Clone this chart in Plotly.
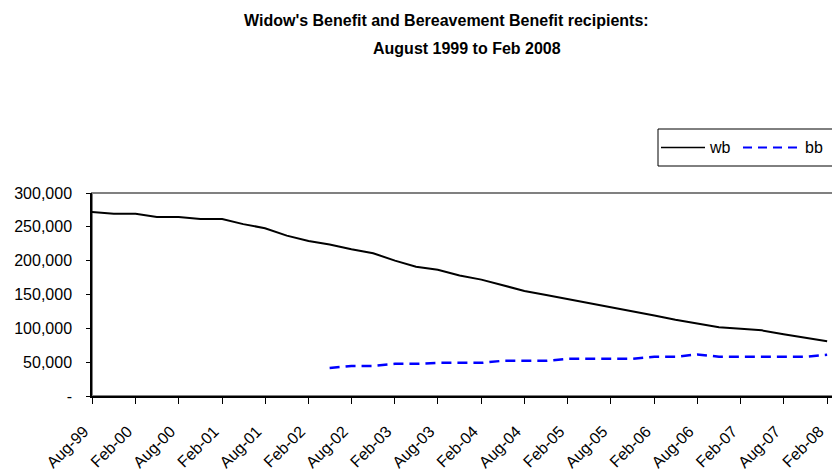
import plotly.graph_objects as go
import pandas as pd

# Quarterly periods
wb_dates = pd.date_range("1999-08-01", "2008-02-01", freq="3MS")
wb_values = [272000, 269500, 269500, 264500, 264500, 261500, 261500, 254000, 248000,
             237000, 229000, 224000, 217000, 211000, 200000, 191000, 186500, 178000,
             172000, 163700, 155300, 149400, 143500, 137200, 130900, 125000, 119100,
             112700, 106800, 101500, 99400, 97000, 91200, 85700, 80900]

bb_dates = pd.date_range("2002-05-01", "2008-02-01", freq="3MS")
bb_values = [41500, 44500, 44500, 47500, 47500, 49000, 49000, 49000, 52000, 52000,
             52000, 55000, 55000, 55000, 55000, 58000, 58000, 61500, 58000, 58000,
             58000, 58000, 58000, 61000]

tick_dates = pd.date_range("1999-08-01", "2008-02-01", freq="6MS")
tick_labels = [d.strftime("%b-%y") for d in tick_dates]

y_ticks = [0, 50000, 100000, 150000, 200000, 250000, 300000]
y_labels = ["-", "50,000", "100,000", "150,000", "200,000", "250,000", "300,000"]

title_lines = ["Widow's Benefit and Bereavement Benefit recipients:", "August 1999 to Feb 2008"]
series_names = ["wb", "bb"]

FONT = "Liberation Sans, Arial, sans-serif"

# page body has an 8px default margin -> figure is 832x467, offset by 8px
OFF = 8
ML, MR, MT, MB = 84, 6, 185, 79
W, H = 832, 467
PW, PH = W - ML - MR, H - MT - MB


def px(sx):
    return (sx - OFF - ML) / PW


def py(sy):
    return (H - MB - (sy - OFF)) / PH


fig = go.Figure()
fig.add_trace(go.Scatter(x=wb_dates, y=wb_values, mode="lines", name=series_names[0],
                         line=dict(color="black", width=2)))
fig.add_trace(go.Scatter(x=bb_dates, y=bb_values, mode="lines", name=series_names[1],
                         line=dict(color="#0000FF", width=2.5, dash="10px,6px")))

shapes = [
    dict(type="rect", xref="paper", yref="paper", x0=0, x1=1, y0=0, y1=1,
         line=dict(color="#808080", width=2), layer="below"),
    # legend box
    dict(type="rect", xref="paper", yref="paper", x0=px(658), x1=px(832.5),
         y0=py(166), y1=py(129), line=dict(color="black", width=1), fillcolor="white"),
    dict(type="line", xref="paper", yref="paper", x0=px(661), x1=px(705),
         y0=py(147.5), y1=py(147.5), line=dict(color="black", width=1.5)),
    dict(type="line", xref="paper", yref="paper", x0=px(743), x1=px(800),
         y0=py(147.5), y1=py(147.5), line=dict(color="#0000FF", width=2, dash="9px,6px")),
]

annotations = [
    dict(text="<b>" + title_lines[0] + "</b>", xref="paper", yref="paper",
         x=px(446), y=py(21), xanchor="center", yanchor="middle", showarrow=False,
         font=dict(family=FONT, size=16, color="black")),
    dict(text="<b>" + title_lines[1] + "</b>", xref="paper", yref="paper",
         x=px(467), y=py(48), xanchor="center", yanchor="middle", showarrow=False,
         font=dict(family=FONT, size=16, color="black")),
    dict(text=series_names[0], xref="paper", yref="paper",
         x=px(707), y=py(147.5), xanchor="left", yanchor="middle", showarrow=False,
         font=dict(family=FONT, size=16, color="black")),
    dict(text=series_names[1], xref="paper", yref="paper",
         x=px(803), y=py(147.5), xanchor="left", yanchor="middle", showarrow=False,
         font=dict(family=FONT, size=16, color="black")),
]

fig.update_layout(
    width=W, height=H,
    paper_bgcolor="white", plot_bgcolor="white",
    margin=dict(l=ML, r=MR, t=MT, b=MB, autoexpand=False),
    font=dict(family=FONT, size=15, color="black"),
    showlegend=False,
    shapes=shapes,
    annotations=annotations,
)

fig.update_xaxes(
    type="date", automargin=False,
    range=["1999-08-01", "2008-03-01"],
    tickmode="array", tickvals=tick_dates, ticktext=tick_labels,
    tickangle=-45, ticks="outside", ticklen=6, tickcolor="black",
    showline=True, linecolor="black", linewidth=1.5,
    showgrid=False, zeroline=False,
    tickfont=dict(family=FONT, size=16),
    ticklabelstandoff=12, ticklabelshift=-8,
)
fig.update_yaxes(
    automargin=False,
    range=[0, 300000],
    tickmode="array", tickvals=y_ticks, ticktext=y_labels,
    ticks="outside", ticklen=4, tickcolor="black",
    showline=True, linecolor="black", linewidth=1.5,
    showgrid=False, zeroline=False,
    tickfont=dict(family=FONT, size=16),
    ticklabelstandoff=11,
)

fig.write_html("out.html")
